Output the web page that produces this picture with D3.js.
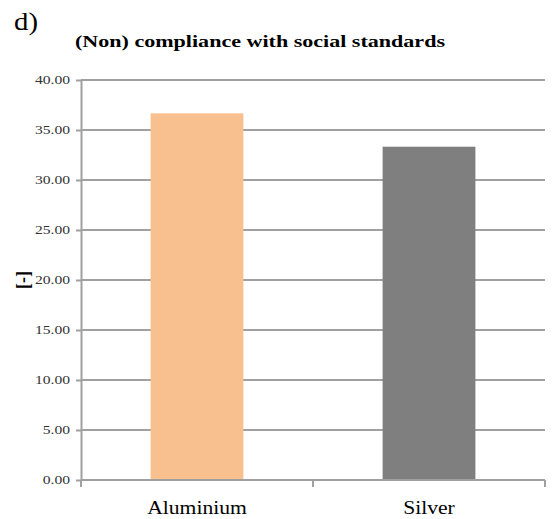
<!DOCTYPE html>
<html>
<head>
<meta charset="utf-8">
<script src="https://cdn.jsdelivr.net/npm/d3@7"></script>
<style>
  body { margin: 0; background: #fff; }
</style>
</head>
<body>
<svg id="chart" width="554" height="519"></svg>
<script>
// (Non) compliance with social standards - panel d)
const categories = ["Aluminium", "Silver"];
const values     = [36.67, 33.33];
const barColors  = ["#f9c08f", "#7f7f7f"];
const yTicks     = [0, 5, 10, 15, 20, 25, 30, 35, 40];

const FONT = "'Liberation Serif', 'Times New Roman', Times, serif";

const svg = d3.select("#chart");
const m = { left: 81, right: 9, top: 80, bottom: 39 };
const W = 554, H = 519;

const x = d3.scaleBand().domain(categories).range([m.left, W - m.right]).paddingInner(0.6).paddingOuter(0.3);
const y = d3.scaleLinear().domain([0, 40]).range([H - m.bottom, m.top]);

// stretch a text horizontally by factor sx (reference is widened)
function stretch(sel, sx) {
  sel.each(function () {
    const len = this.getComputedTextLength();
    d3.select(this).attr("textLength", len * sx).attr("lengthAdjust", "spacingAndGlyphs");
  });
}

// gridlines
svg.append("g").selectAll("line")
  .data(yTicks.filter(t => t > 0))
  .join("line")
    .attr("x1", m.left).attr("x2", W - m.right)
    .attr("y1", d => y(d)).attr("y2", d => y(d))
    .attr("stroke", "#a0a0a0").attr("stroke-width", 2);

// bars
svg.append("g").selectAll("rect")
  .data(categories)
  .join("rect")
    .attr("x", d => x(d))
    .attr("width", x.bandwidth())
    .attr("y", (d, i) => y(values[i]))
    .attr("height", (d, i) => y(0) - y(values[i]))
    .attr("fill", (d, i) => barColors[i]);

// y axis
const yAxis = svg.append("g")
  .attr("transform", `translate(${m.left},0)`)
  .call(d3.axisLeft(y).tickValues(yTicks).tickFormat(d3.format(".2f")).tickSize(5).tickPadding(6).tickSizeOuter(0));
yAxis.select(".domain").attr("stroke", "#a0a0a0").attr("stroke-width", 2);
yAxis.selectAll(".tick line").attr("stroke", "#a0a0a0").attr("stroke-width", 2);
yAxis.selectAll("text")
  .style("font-family", FONT).style("font-size", "12px").style("fill", "#333")
  .call(stretch, 1.3);

// x axis (category boundaries carry the ticks)
const x0 = m.left, x1 = W - m.right;
const xAxis = svg.append("g").attr("transform", `translate(0,${y(0)})`);
xAxis.append("line").attr("x1", x0).attr("x2", x1).attr("stroke", "#a0a0a0").attr("stroke-width", 2);
xAxis.selectAll(".xt")
  .data([0, 1, 2])
  .join("line")
    .attr("x1", i => x0 + (x1 - x0) * i / 2).attr("x2", i => x0 + (x1 - x0) * i / 2)
    .attr("y1", 0).attr("y2", 7)
    .attr("stroke", "#a0a0a0").attr("stroke-width", 2);
xAxis.selectAll(".xl")
  .data(categories)
  .join("text")
    .attr("x", d => x(d) + x.bandwidth() / 2)
    .attr("y", 34)
    .attr("text-anchor", "middle")
    .style("font-family", FONT).style("font-size", "18px")
    .text(d => d)
    .call(stretch, 1.2);

// y label
svg.append("text")
  .attr("transform", "translate(29,280) rotate(-90)")
  .attr("text-anchor", "middle")
  .style("font-family", FONT).style("font-size", "18px").style("font-weight", "bold")
  .text("[-]");

// title
svg.append("text")
  .attr("x", 75).attr("y", 47)
  .style("font-family", FONT).style("font-size", "17px").style("font-weight", "bold")
  .attr("textLength", 370).attr("lengthAdjust", "spacingAndGlyphs")
  .text("(Non) compliance with social standards");

// panel letter
svg.append("text")
  .attr("x", 14).attr("y", 30)
  .style("font-family", FONT).style("font-size", "25px")
  .text("d)")
  .call(stretch, 1.15);
</script>
</body>
</html>
